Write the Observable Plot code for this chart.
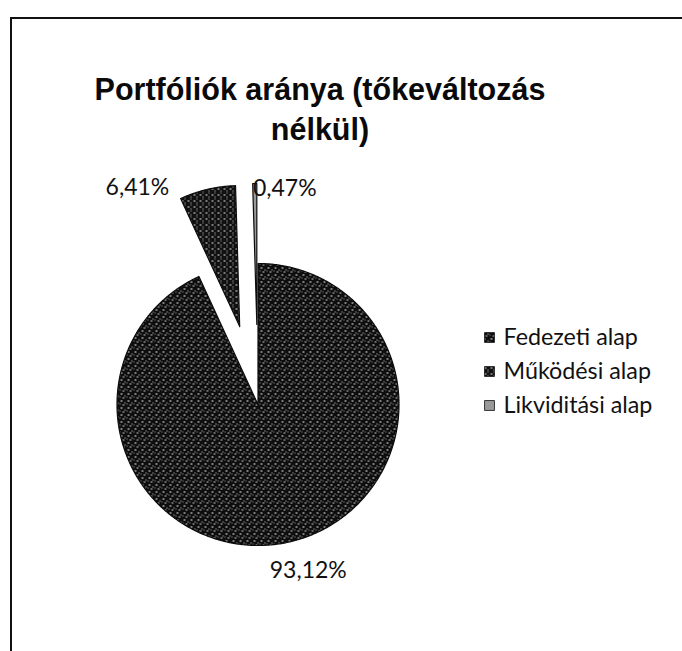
<!DOCTYPE html>
<html><head><meta charset="utf-8">
<script src="https://cdn.jsdelivr.net/npm/d3@7"></script>
<script src="https://cdn.jsdelivr.net/npm/@observablehq/plot@0.6"></script>
<style>
body{margin:0;background:#fff;width:682px;height:651px;overflow:hidden;position:relative;}
#frame{position:absolute;left:10px;top:17px;width:700px;height:700px;border-top:2px solid #111;border-left:2px solid #111;}
#chart{position:absolute;left:0;top:0;}
#title{position:absolute;left:0;width:640px;top:69px;text-align:center;font:bold 30.5px "Liberation Sans",Arial,sans-serif;line-height:40px;color:#0a0a0a;z-index:2;}
</style>
</head><body>
<div id="frame"></div>
<div id="chart"></div>
<div id="title">Portfóliók aránya (tőkeváltozás<br>nélkül)</div>
<script>
const names = ["Fedezeti alap", "Működési alap", "Likviditási alap"];
const values = [93.12, 6.41, 0.47];
const labels = ["93,12%", "6,41%", "0,47%"];

const W = 682, H = 651;
const cx = 257.5, cy = 404, R = 141;
const explode = {"Fedezeti alap": 0, "Működési alap": 80, "Likviditási alap": 80};
const labelShift = {"Fedezeti alap": [20, 28], "Működési alap": [-70, -2], "Likviditási alap": [30, 5]};

const total = d3.sum(values);
let acc = 0;
const slices = names.map((name, i) => {
  const a0 = acc / total * 2 * Math.PI;
  acc += values[i];
  const a1 = acc / total * 2 * Math.PI;
  const mid = (a0 + a1) / 2;
  const e = explode[name];
  const ox = cx + e * Math.sin(mid), oy = cy - e * Math.cos(mid);
  return {name, value: values[i], label: labels[i], a0, a1, mid, ox, oy};
});

const pts = [];
for (const s of slices) {
  pts.push({name: s.name, x: s.ox, y: s.oy});
  const n = Math.max(2, Math.ceil((s.a1 - s.a0) / 0.01));
  for (let k = 0; k <= n; k++) {
    const t = s.a0 + (s.a1 - s.a0) * k / n;
    pts.push({name: s.name, x: s.ox + R * Math.sin(t), y: s.oy - R * Math.cos(t)});
  }
  pts.push({name: s.name, x: s.ox, y: s.oy});
}

const labelPts = slices.map(s => ({
  label: s.label,
  x: s.ox + R * Math.sin(s.mid) + labelShift[s.name][0],
  y: s.oy - R * Math.cos(s.mid) + labelShift[s.name][1]
}));

const legend = names.map((name, i) => ({name, x: 489, y: 337 + i * 34}));

const fills = ["url(#pFed)", "url(#pMuk)", "url(#pLik)"];

const plot = Plot.plot({
  width: W, height: H,
  margin: 0,
  style: {background: "transparent", overflow: "visible"},
  x: {domain: [0, W], range: [0, W], axis: null},
  y: {domain: [0, H], range: [0, H], axis: null},
  color: {domain: names, range: fills},
  marks: [
    Plot.line(pts, {x: "x", y: "y", z: "name", fill: "name", stroke: "#0d0d0d", strokeWidth: 1.2, curve: "linear"}),
    Plot.text(labelPts, {x: "x", y: "y", text: "label", fontSize: 23, fontFamily: "Lato, 'Open Sans', sans-serif", fill: "#111"}),
    Plot.dot(legend, {x: "x", y: "y", fill: "name", symbol: "square", r: 5.6, stroke: "#111", strokeWidth: 0.8}),
    Plot.text(legend, {x: d => d.x + 14, y: "y", text: "name", textAnchor: "start", fontSize: 23.3, fontFamily: "Lato, 'Open Sans', sans-serif", fill: "#111"})
  ]
});

plot.insertAdjacentHTML("afterbegin", `<defs>
<pattern id="pFed" width="7" height="7" patternUnits="userSpaceOnUse">
<rect width="7" height="7" fill="#0e0e0e"/>
<rect x="1" y="1" width="2" height="1" fill="#e8e8e8"/>
<rect x="5" y="3" width="1" height="1" fill="#cfcfcf"/>
<rect x="3" y="5" width="2" height="1" fill="#bdbdbd"/>
<rect x="0" y="4" width="1" height="1" fill="#9a9a9a"/>
</pattern>
<pattern id="pMuk" width="6" height="6" patternUnits="userSpaceOnUse">
<rect width="6" height="6" fill="#111"/>
<rect x="1" y="2" width="2" height="1" fill="#e0e0e0"/>
<rect x="4" y="4" width="1" height="1" fill="#c8c8c8"/>
<rect x="4" y="0" width="1" height="1" fill="#aaaaaa"/>
</pattern>
<pattern id="pLik" width="2" height="2" patternUnits="userSpaceOnUse">
<rect width="2" height="2" fill="#ffffff"/>
<rect width="1" height="1" fill="#222"/>
<rect x="1" y="1" width="1" height="1" fill="#444"/>
</pattern>
</defs>`);

document.getElementById("chart").appendChild(plot);
</script>
</body></html>
